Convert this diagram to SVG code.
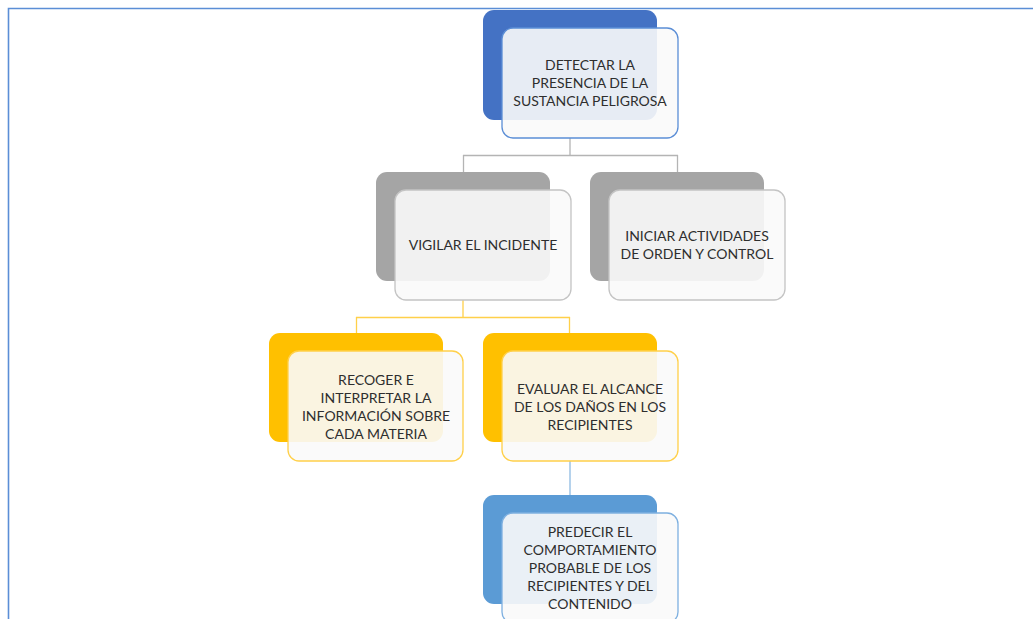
<svg xmlns="http://www.w3.org/2000/svg" width="1033" height="619" viewBox="0 0 1033 619">
<style>
.t{font-family:Lato,"Open Sans","Liberation Sans",sans-serif;font-size:14px;fill:#2e2e2e;text-anchor:middle}
.f{fill:#fafafa;fill-opacity:0.9;stroke-width:1.3}
</style>
<rect width="1033" height="619" fill="#fff"/>
<path d="M8.5 619V8.5H1033" fill="none" stroke="#5b8ed6" stroke-width="1.6"/>
<g id="connectors" fill="none">
<path d="M570 138V155.5M463 155.5H678M463.5 155V172M677.5 155V172" stroke="#b4b4b4" stroke-width="1.3"/>
<path d="M463 300V317.5M356 317.5H570M356.5 317V333M569.5 317V333" stroke="#ffd04a" stroke-width="1.3"/>
<path d="M570 461V495" stroke="#9dc3e6" stroke-width="1.5"/>
</g>
<g id="n1">
<rect x="483" y="10" width="174" height="110" rx="11" fill="#4472c4"/>
<rect x="502" y="28" width="176" height="110" rx="11" class="f" stroke="#5b8ed6"/>
<text class="t" x="590" y="70">DETECTAR LA</text>
<text class="t" x="590" y="88">PRESENCIA DE LA</text>
<text class="t" x="590" y="106">SUSTANCIA PELIGROSA</text>
</g>
<g id="n2">
<rect x="376" y="172" width="174" height="109" rx="11" fill="#a5a5a5"/>
<rect x="395" y="190" width="176" height="110" rx="11" class="f" stroke="#c4c4c4"/>
<text class="t" x="483" y="250">VIGILAR EL INCIDENTE</text>
</g>
<g id="n3">
<rect x="590" y="172" width="174" height="109" rx="11" fill="#a5a5a5"/>
<rect x="609" y="190" width="176" height="110" rx="11" class="f" stroke="#c4c4c4"/>
<text class="t" x="697" y="241">INICIAR ACTIVIDADES</text>
<text class="t" x="697" y="259">DE ORDEN Y CONTROL</text>
</g>
<g id="n4">
<rect x="269" y="333" width="174" height="109" rx="11" fill="#ffc000"/>
<rect x="288" y="351" width="175" height="110" rx="11" class="f" stroke="#ffd04a"/>
<text class="t" x="376" y="385">RECOGER E</text>
<text class="t" x="376" y="403">INTERPRETAR LA</text>
<text class="t" x="376" y="421">INFORMACIÓN SOBRE</text>
<text class="t" x="376" y="439">CADA MATERIA</text>
</g>
<g id="n5">
<rect x="483" y="333" width="174" height="109" rx="11" fill="#ffc000"/>
<rect x="502" y="351" width="176" height="110" rx="11" class="f" stroke="#ffd04a"/>
<text class="t" x="590" y="394">EVALUAR EL ALCANCE</text>
<text class="t" x="590" y="412">DE LOS DAÑOS EN LOS</text>
<text class="t" x="590" y="430">RECIPIENTES</text>
</g>
<g id="n6">
<rect x="483" y="495" width="174" height="109" rx="11" fill="#5b9bd5"/>
<rect x="502" y="513" width="176" height="110" rx="11" class="f" stroke="#7eb0e0"/>
<text class="t" x="590" y="537">PREDECIR EL</text>
<text class="t" x="590" y="555">COMPORTAMIENTO</text>
<text class="t" x="590" y="573">PROBABLE DE LOS</text>
<text class="t" x="590" y="591">RECIPIENTES Y DEL</text>
<text class="t" x="590" y="609">CONTENIDO</text>
</g>
</svg>
